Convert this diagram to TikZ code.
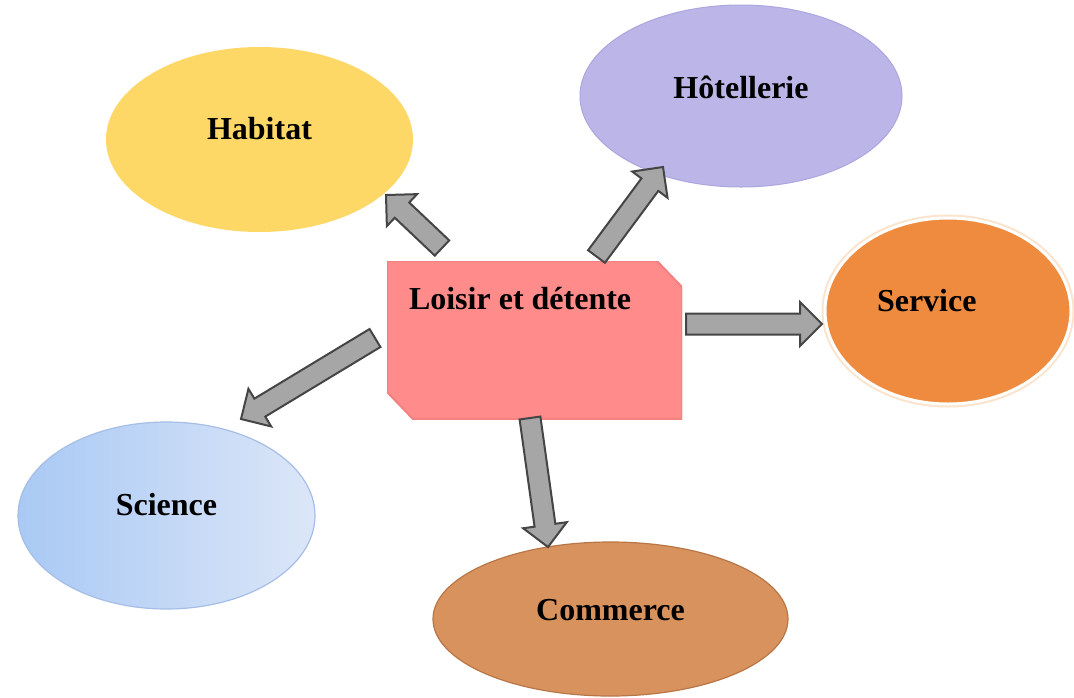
\documentclass[tikz,border=0pt]{standalone}
\usepackage{fontspec}
\setmainfont{Liberation Serif}
\usetikzlibrary{shapes.geometric,calc}
\definecolor{habitatc}{HTML}{FDD866}
\definecolor{hotelc}{HTML}{BCB6E8}
\definecolor{hoteld}{HTML}{ADA5DE}
\definecolor{servicec}{HTML}{EE8B3E}
\definecolor{serviceglow}{HTML}{FBE3CC}
\definecolor{sciencel}{HTML}{A9C9F4}
\definecolor{sciencer}{HTML}{DCE6F8}
\definecolor{scienced}{HTML}{A6BEE6}
\definecolor{commercec}{HTML}{D8925E}
\definecolor{commerced}{HTML}{B87646}
\definecolor{boxc}{HTML}{FF8B8B}
\definecolor{boxd}{HTML}{F28282}
\definecolor{arrfill}{HTML}{A6A6A6}
\definecolor{arrdraw}{HTML}{454545}
\newcommand\blockarrow[2]{%
  \coordinate (neck) at ($(#2)!22pt!(#1)$);
  \draw[blockarr] ($(#1)!10.5pt!90:(#2)$) -- ($(neck)!10.5pt!-90:(#1)$)
    -- ($(neck)!22pt!-90:(#1)$) -- (#2) -- ($(neck)!22pt!90:(#1)$)
    -- ($(neck)!10.5pt!90:(#1)$) -- ($(#1)!10.5pt!-90:(#2)$) -- cycle;}
\begin{document}
\begin{tikzpicture}[x=1pt,y=-1pt,
  every node/.style={font=\fontsize{32}{38}\selectfont\bfseries, text=black, inner sep=0pt},
  ell/.style={ellipse, text height=25pt, text depth=25pt},
  blockarr/.style={fill=arrfill, draw=arrdraw, line width=2pt, line join=miter}]
\useasboundingbox (0,0) rectangle (1074,697);
\fill[white] (0,0) rectangle (1074,697);

\node[ell, fill=habitatc, minimum width=307pt, minimum height=185pt]
  (habitat) at (259.5,139.5) {Habitat};
\node[ell, fill=hotelc, draw=hoteld, line width=1pt, minimum width=322pt, minimum height=182pt,
  text height=27pt, text depth=23pt]
  (hotel) at (741,96) {Hôtellerie};
\node[ell, fill=servicec, draw=white, line width=3pt,
  preaction={draw=serviceglow, line width=7pt},
  minimum width=246pt, minimum height=186pt]
  (service) at (948,311) {\makebox[142pt][l]{Service}};
\node[ell, left color=sciencel, right color=sciencer, draw=scienced, line width=1.2pt,
  minimum width=297pt, minimum height=187pt]
  (science) at (166.5,515.5) {Science};
\node[ell, fill=commercec, draw=commerced, line width=1.2pt,
  minimum width=355pt, minimum height=154pt, text height=26pt, text depth=24pt]
  (commerce) at (610.5,619) {Commerce};

\node[rectangle, minimum width=295pt, minimum height=158pt,
  text height=25pt, text depth=87pt,
  path picture={
    \filldraw[fill=boxc, draw=boxd, line width=2pt]
      (path picture bounding box.north west)
      -- ([xshift=-25pt]path picture bounding box.north east)
      -- ([yshift=-26pt]path picture bounding box.north east)
      -- (path picture bounding box.south east)
      -- ([xshift=26pt]path picture bounding box.south west)
      -- ([yshift=27pt]path picture bounding box.south west) -- cycle;}]
  (loisir) at (534.5,340) {\makebox[251pt][l]{Loisir et détente}};

\coordinate (t1) at (442,248);   \coordinate (h1) at (386,195);
\coordinate (t2) at (596.5,256.5); \coordinate (h2) at (663,167);
\coordinate (t3) at (686,324);   \coordinate (h3) at (822,324);
\coordinate (t4) at (375,338);   \coordinate (h4) at (241,419);
\coordinate (t5) at (530,418);   \coordinate (h5) at (548,547);

\blockarrow{t1}{h1}
\blockarrow{t2}{h2}
\blockarrow{t3}{h3}
\blockarrow{t4}{h4}
\blockarrow{t5}{h5}
\end{tikzpicture}
\end{document}
